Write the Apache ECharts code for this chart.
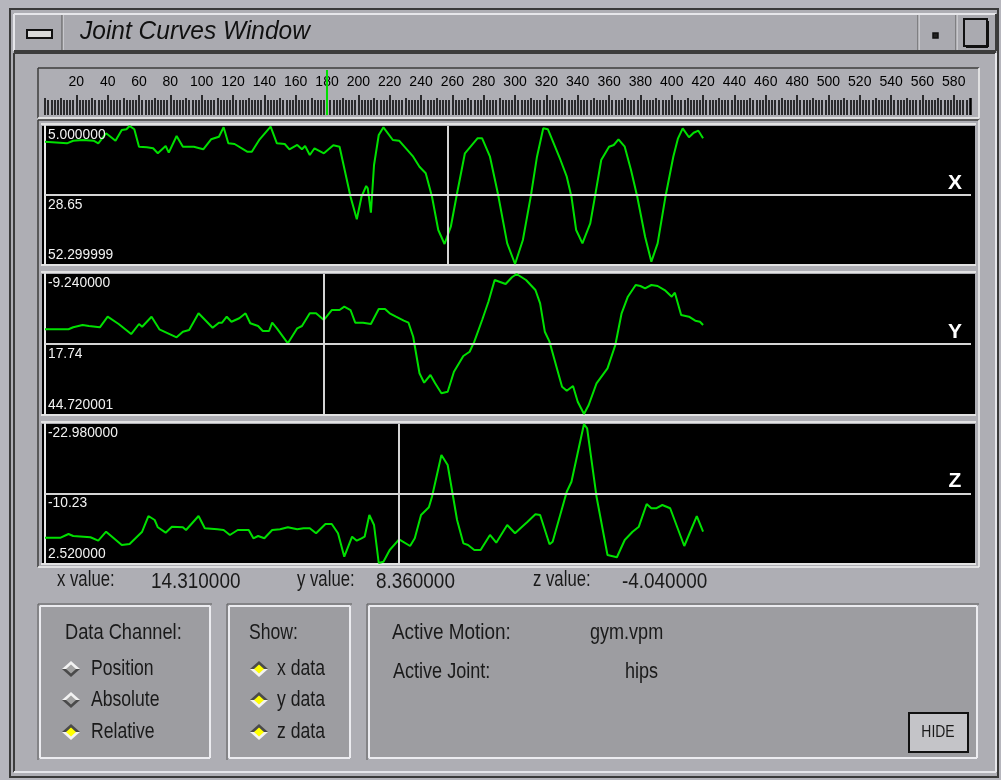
<!DOCTYPE html>
<html>
<head>
<meta charset="utf-8">
<title>Joint Curves Window</title>
<script src="https://cdn.jsdelivr.net/npm/echarts@6/dist/echarts.min.js"></script>
<style>
  html, body { margin: 0; padding: 0; background: #aeaeb4; }
  #chart { width: 1001px; height: 780px; }
</style>
</head>
<body>
<div id="chart"></div>
<script>
// ---- joint curve data (frame number, channel value) ----
const xFrames = [0, 14, 18, 24, 31, 34, 39, 45, 49, 52, 54, 57, 60, 65, 69, 72, 77, 79, 84, 88, 95, 101, 106, 111, 114, 117, 121, 129, 132, 137, 144, 148, 153, 156, 161, 164, 166, 169, 172, 178, 184, 188, 195, 199, 202, 205, 206, 208, 210, 213, 216, 222, 226, 235, 239, 243, 247, 251, 255, 259, 263, 268, 276, 279, 284, 289, 295, 300, 305, 310, 314, 318, 321, 329, 333, 336, 339, 343, 348, 351, 355, 360, 363, 366, 370, 374, 378, 383, 387, 391, 396, 401, 404, 407, 411, 414, 417, 420];
const xValues = [10.38, 10.93, 10.04, 9.80, 10.04, 10.93, 7.50, 10.04, 6.37, 6.13, 5.00, 6.13, 12.10, 12.30, 12.64, 14.36, 11.86, 14.15, 8.43, 12.10, 12.10, 12.99, 9.56, 8.67, 5.45, 10.93, 11.17, 13.81, 13.81, 9.56, 5.24, 10.93, 11.17, 12.99, 11.51, 12.99, 11.86, 14.94, 12.64, 14.36, 11.62, 12.10, 29.23, 36.98, 29.23, 25.57, 26.35, 34.72, 18.37, 8.08, 5.45, 9.80, 10.04, 15.52, 18.95, 21.21, 29.23, 40.65, 45.45, 39.52, 28.07, 14.36, 9.22, 9.22, 15.52, 28.07, 45.21, 52.30, 44.08, 29.23, 15.52, 5.79, 6.13, 16.65, 22.38, 29.23, 40.65, 45.21, 38.35, 29.23, 16.65, 12.10, 11.51, 9.56, 12.10, 20.08, 29.23, 42.94, 51.51, 45.21, 29.23, 15.52, 9.22, 5.79, 8.87, 7.30, 6.61, 9.22];

const yFrames = [0, 15, 18, 24, 28, 35, 40, 47, 55, 60, 62, 68, 73, 84, 88, 92, 98, 107, 111, 113, 116, 119, 124, 128, 131, 136, 139, 143, 145, 148, 155, 161, 164, 169, 173, 178, 183, 188, 191, 195, 198, 203, 208, 213, 217, 220, 224, 229, 232, 235, 239, 242, 246, 249, 253, 257, 261, 267, 271, 274, 279, 283, 287, 290, 294, 298, 301, 307, 313, 316, 319, 322, 327, 330, 333, 337, 340, 344, 347, 352, 359, 364, 368, 372, 377, 380, 383, 387, 391, 396, 400, 402, 406, 411, 415, 418, 420];
const yValues = [12.07, 12.07, 11.30, 10.42, 10.80, 11.30, 7.22, 10.03, 13.89, 10.03, 11.07, 7.22, 12.07, 15.16, 13.00, 12.34, 5.91, 11.46, 9.53, 9.53, 7.22, 9.15, 7.83, 5.91, 9.76, 10.80, 12.73, 12.73, 9.53, 11.69, 17.47, 11.69, 10.80, 5.91, 5.91, 8.49, 4.64, 4.64, 3.36, 4.64, 9.53, 9.53, 10.03, 4.25, 4.25, 5.91, 7.22, 8.76, 9.53, 14.93, 29.03, 32.66, 29.69, 32.89, 36.74, 36.13, 28.42, 22.37, 20.71, 16.85, 8.49, 1.44, -6.93, -6.27, -5.39, -7.97, -9.24, -6.93, -3.07, 2.05, 13.00, 16.85, 27.76, 34.20, 35.74, 33.93, 39.98, 44.72, 41.25, 32.89, 27.11, 18.13, 5.91, -0.49, -5.00, -4.61, -3.73, -5.00, -4.61, -2.80, -0.49, -2.03, 6.56, 7.22, 8.76, 9.15, 10.42];

const zFrames = [0, 10, 15, 18, 29, 34, 39, 49, 54, 62, 66, 70, 72, 77, 81, 88, 90, 98, 102, 110, 114, 118, 123, 130, 133, 136, 140, 145, 150, 155, 161, 165, 169, 173, 179, 183, 187, 191, 196, 199, 202, 204, 207, 210, 213, 216, 220, 226, 233, 236, 240, 245, 247, 253, 257, 263, 267, 270, 274, 278, 284, 288, 295, 300, 305, 308, 313, 316, 322, 324, 333, 336, 344, 346, 352, 359, 365, 370, 375, 379, 384, 387, 390, 394, 399, 408, 416, 420];
const zValues = [-2.12, -2.12, -2.80, -2.43, -2.20, -1.57, -3.22, -0.78, -0.97, -3.22, -6.10, -5.37, -4.03, -3.04, -4.14, -4.03, -3.53, -6.10, -3.85, -3.66, -3.53, -2.62, -3.53, -3.53, -2.01, -2.43, -2.01, -3.53, -3.66, -4.03, -3.66, -3.85, -3.85, -2.93, -4.63, -4.63, -2.93, 1.36, -2.31, -1.57, -2.01, -2.31, -6.29, -4.45, 2.52, 2.28, 0.13, -1.83, -0.60, -2.01, -6.29, -7.70, -9.64, -17.29, -15.46, -5.37, -1.09, -0.78, 0.13, 0.13, -2.62, -1.20, -4.45, -2.93, -4.27, -5.06, -6.41, -6.29, -0.91, -1.39, -10.56, -12.39, -22.98, -22.19, -9.64, 1.05, 1.47, -1.70, -3.22, -4.14, -8.30, -7.52, -7.52, -8.12, -7.52, -0.60, -6.10, -3.22];

// ---- channel settings and readouts ----
const channelNames = ['X', 'Y', 'Z'];
const channelMin = [5.0, -9.24, -22.98];
const channelMax = [52.299999, 44.720001, 2.52];
const channelTopLabels = ['5.000000', '-9.240000', '-22.980000'];
const channelMidLabels = ['28.65', '17.74', '-10.23'];
const channelBottomLabels = ['52.299999', '44.720001', '2.520000'];
const channelCursors = [257, 178, 226];
const rulerCursor = 180;
const frameMax = 591;

const readoutLabels = ['x value:', 'y value:', 'z value:'];
const readoutValues = ['14.310000', '8.360000', '-4.040000'];
const dataChannelOptions = ['Position', 'Absolute', 'Relative'];
const dataChannelSelected = [false, false, true];
const showOptions = ['x data', 'y data', 'z data'];
const showSelected = [true, true, true];
const activeMotion = 'gym.vpm';
const activeJoint = 'hips';

// ---- layout ----
const SANS = "'Liberation Sans', Arial, sans-serif";
const GREEN = '#00e000';
const plotLeft = 45, plotRight = 30;
const panels = [
  { top: 126, height: 138 },
  { top: 274, height: 140 },
  { top: 424, height: 139 }
];
const ruler = { top: 70, height: 45 };

const chart = echarts.init(document.getElementById('chart'), null, { renderer: 'canvas' });

const grids = [{ left: plotLeft, right: plotRight, top: ruler.top, height: ruler.height }];
panels.forEach(p => grids.push({ left: plotLeft, right: plotRight, top: p.top, height: p.height }));

// ruler axes: one for 10-frame ticks with 2-frame minor ticks, one for labelled 20-frame ticks
const xAxes = [
  {
    type: 'value', gridIndex: 0, min: 0, max: frameMax, interval: 10, position: 'bottom',
    axisLine: { show: false },
    axisTick: { show: true, inside: true, length: 17, lineStyle: { color: '#000', width: 1.5 } },
    minorTick: { show: true, splitNumber: 5, length: 15, lineStyle: { color: '#000', width: 1.5 } },
    axisLabel: { show: false }, splitLine: { show: false }, minorSplitLine: { show: false }
  },
  {
    type: 'value', gridIndex: 0, min: 0, max: frameMax, interval: 20, position: 'bottom',
    axisLine: { show: false },
    axisTick: { show: true, inside: true, length: 20, lineStyle: { color: '#000', width: 1.5 } },
    axisLabel: {
      show: true, inside: true, margin: 26, color: '#000', fontSize: 14, fontFamily: SANS,
      showMinLabel: false, showMaxLabel: false
    },
    splitLine: { show: false }
  }
];
const yAxes = [{ type: 'value', gridIndex: 0, min: 0, max: 1, show: false }];

panels.forEach((p, i) => {
  xAxes.push({
    type: 'value', gridIndex: i + 1, min: 0, max: frameMax, show: false
  });
  yAxes.push({
    type: 'value', gridIndex: i + 1, inverse: true,
    min: channelMin[i], max: channelMax[i],
    axisLine: { show: true, onZero: false, lineStyle: { color: '#e8e8e8', width: 2 } },
    axisTick: { show: false }, axisLabel: { show: false }, splitLine: { show: false }
  });
});

const channelFrames = [xFrames, yFrames, zFrames];
const channelValues = [xValues, yValues, zValues];

const series = [{
  type: 'line', xAxisIndex: 1, yAxisIndex: 0, data: [], silent: true,
  markLine: {
    silent: true, symbol: 'none', label: { show: false },
    lineStyle: { color: GREEN, width: 2, type: 'solid' },
    data: [{ xAxis: rulerCursor }]
  }
}];

channelNames.forEach((name, i) => {
  series.push({
    name: name, type: 'line', xAxisIndex: i + 2, yAxisIndex: i + 1,
    data: channelFrames[i].map((f, k) => [f, channelValues[i][k]]),
    symbol: 'none', silent: true, animation: false,
    lineStyle: { color: GREEN, width: 2 },
    markLine: {
      silent: true, symbol: 'none', label: { show: false }, animation: false,
      lineStyle: { color: '#d4d4d4', width: 2, type: 'solid' },
      data: [
        { yAxis: (channelMin[i] + channelMax[i]) / 2 },
        { xAxis: channelCursors[i] }
      ]
    }
  });
});

// ---- window chrome and controls ----
const g = [];
function rect(x, y, w, h, fill, stroke, lw, z) {
  g.push({ type: 'rect', shape: { x, y, width: w, height: h }, z: z === undefined ? -10 : z,
    style: { fill: fill || 'none', stroke: stroke || null, lineWidth: lw || 1 } });
}
function line(x1, y1, x2, y2, stroke, lw, z) {
  g.push({ type: 'line', shape: { x1, y1, x2, y2 }, z: z === undefined ? -9 : z,
    style: { stroke, lineWidth: lw || 1 } });
}
// text drawn in a narrowed sans face (horizontal squeeze around its anchor)
function text(x, y, s, opt) {
  opt = opt || {};
  g.push({ type: 'text', x, y, z: 50, scaleX: opt.sx || 0.82, scaleY: 1,
    style: {
      text: s, fill: opt.fill || '#1a1a1a',
      fontSize: opt.size || 22, fontFamily: SANS,
      fontWeight: opt.weight || 'normal', fontStyle: opt.style || 'normal',
      align: opt.align || 'left', verticalAlign: opt.valign || 'middle'
    } });
}
function bevel(x, y, w, h, light, dark, lw) {
  line(x, y, x + w, y, light, lw); line(x, y, x, y + h, light, lw);
  line(x, y + h, x + w, y + h, dark, lw); line(x + w, y, x + w, y + h, dark, lw);
}
function diamond(cx, cy, selected) {
  const hw = 9, hh = 8;
  g.push({ type: 'polygon', z: 40, shape: { points: [[cx - hw, cy], [cx, cy - hh], [cx + hw, cy]] },
    style: { fill: selected ? '#4a4a4a' : '#f2f2f2' } });
  g.push({ type: 'polygon', z: 40, shape: { points: [[cx - hw, cy], [cx, cy + hh], [cx + hw, cy]] },
    style: { fill: selected ? '#f2f2f2' : '#4a4a4a' } });
  g.push({ type: 'polygon', z: 41, shape: { points: [[cx - 5, cy], [cx, cy - 4.5], [cx + 5, cy], [cx, cy + 4.5]] },
    style: { fill: selected ? '#ffff00' : '#a2a2a2' } });
}

// desktop + window frame
rect(0, 0, 1001, 780, '#b6b6bd', null, 1, -20);
rect(10, 9, 988, 768, '#aeaeb4', '#3a3a3a', 2, -19);
// title bar
rect(14, 14, 982, 37, '#aaaab0', null, 1, -18);
bevel(14, 14, 982, 37, '#e6e6ea', '#3c3c3c', 2);
line(63, 15, 63, 50, '#e6e6ea', 1); line(62, 15, 62, 50, '#555', 1);
line(918, 15, 918, 50, '#555', 1); line(919, 15, 919, 50, '#e6e6ea', 1);
line(956, 15, 956, 50, '#555', 1); line(957, 15, 957, 50, '#e6e6ea', 1);
rect(27, 30, 25, 8, '#d8d8d8', '#111', 2, -8);
rect(933, 33, 5, 5, '#222', '#111', 1.5, -8);
rect(964, 19, 23, 27, 'none', '#111', 2, -8);
line(988, 21, 988, 47, '#111', 2); line(966, 47, 988, 47, '#111', 2);
text(80, 32, 'Joint Curves Window', { size: 25, style: 'italic', fill: '#111', sx: 0.98 });
// content area
bevel(14, 53, 982, 719, '#3c3c3c', '#e6e6ea', 2);
// ruler box
bevel(38, 68, 941, 50, '#3c3c3c', '#f0f0f0', 1.5);
// plot area frame
bevel(38, 120, 941, 447, '#3c3c3c', '#f0f0f0', 1.5);
panels.forEach((p, i) => {
  rect(42, p.top, 933, p.height, '#000', null, 1, -12);
  line(41, p.top - 2, 976, p.top - 2, '#e2e2e2', 2, -11);
  line(41, p.top + p.height + 1, 976, p.top + p.height + 1, '#e2e2e2', 2, -11);
  text(48, p.top + 1, channelTopLabels[i], { fill: '#f2f2f2', size: 15, sx: 0.92, valign: 'top' });
  text(48, p.top + p.height / 2 + 2, channelMidLabels[i], { fill: '#f2f2f2', size: 15, sx: 0.92, valign: 'top' });
  text(48, p.top + p.height - 2, channelBottomLabels[i], { fill: '#f2f2f2', size: 15, sx: 0.92, valign: 'bottom' });
  text(955, p.top + p.height / 2 - 12, channelNames[i], {
    fill: '#ffffff', size: 21, weight: 'bold', align: 'center', sx: 1 });
});

// value readouts
const readoutLabelX = [57, 297, 533], readoutValueX = [151, 376, 622];
readoutLabels.forEach((s, i) => {
  text(readoutLabelX[i], 580, s, { size: 22, sx: 0.76 });
  text(readoutValueX[i], 582, readoutValues[i], { size: 22, sx: 0.86 });
});

// control boxes
function box(x, y, w, h) {
  rect(x, y, w, h, '#9d9da1', null, 1, -14);
  bevel(x, y, w, h, '#ececf0', '#ececf0', 2);
  line(x - 2, y - 2, x + w + 2, y - 2, '#5a5a5a', 1);
  line(x - 2, y - 2, x - 2, y + h + 2, '#5a5a5a', 1);
}
box(40, 606, 170, 152);
box(229, 606, 121, 152);
box(369, 606, 608, 152);

text(65, 633, 'Data Channel:', { size: 22, sx: 0.83 });
const optionY = [669, 700, 732];
dataChannelOptions.forEach((s, i) => {
  diamond(71, optionY[i], dataChannelSelected[i]);
  text(91, optionY[i], s, { size: 22, sx: 0.8 });
});
text(249, 633, 'Show:', { size: 22, sx: 0.8 });
showOptions.forEach((s, i) => {
  diamond(259, optionY[i], showSelected[i]);
  text(277, optionY[i], s, { size: 22, sx: 0.8 });
});
text(392, 633, 'Active Motion:', { size: 22, sx: 0.86 });
text(590, 633, activeMotion, { size: 22, sx: 0.82 });
text(393, 672, 'Active Joint:', { size: 22, sx: 0.82 });
text(625, 672, activeJoint, { size: 22, sx: 0.82 });
// HIDE button
rect(909, 713, 59, 39, '#c4c4c8', '#111', 2, -8);
line(911, 715, 966, 715, '#f4f4f4', 1.5);
line(911, 715, 911, 750, '#f4f4f4', 1.5);
text(938, 733, 'HIDE', { size: 16, align: 'center', sx: 0.87 });

chart.setOption({
  animation: false,
  backgroundColor: 'transparent',
  grid: grids,
  xAxis: xAxes,
  yAxis: yAxes,
  series: series,
  graphic: { elements: g }
});
</script>
</body>
</html>
